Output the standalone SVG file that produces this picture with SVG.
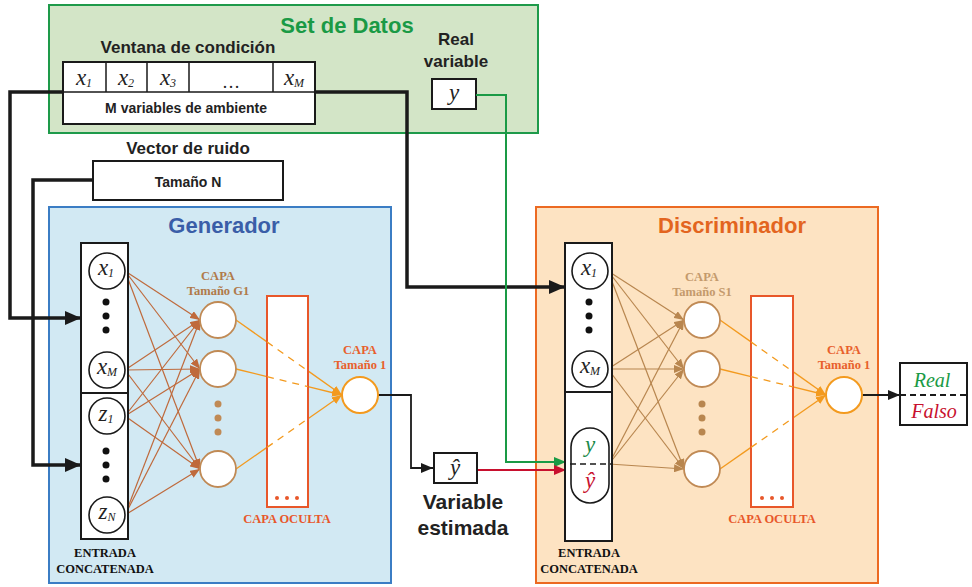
<svg xmlns="http://www.w3.org/2000/svg" width="972" height="587" viewBox="0 0 972 587">
<style>
.sans{font-family:"Liberation Sans",Arial,sans-serif;font-weight:bold}
.serif{font-family:"Liberation Serif","Times New Roman",serif}
.capa{font-family:"Liberation Serif","Times New Roman",serif;font-weight:bold;font-size:12.5px;text-anchor:middle}
.var{font-family:"Liberation Serif","Times New Roman",serif;font-style:italic;font-size:20px;text-anchor:middle;fill:#222}
.vx{font-family:"Liberation Serif","Times New Roman",serif;font-style:italic;font-size:23px;text-anchor:middle;fill:#222}
.box{fill:#fff;stroke:#1a1a1a;stroke-width:2}
.inc{fill:#fff;stroke:#1a1a1a;stroke-width:1.6}
.hid{fill:#fff;stroke:#c08a55;stroke-width:1.8}
.out{fill:#fff;stroke:#f39a1e;stroke-width:2}
.orect{fill:#fff;stroke:#e8572a;stroke-width:2}
.thick{fill:none;stroke:#1a1a1a;stroke-width:3.5}
.gl{stroke:#bf6a3c;stroke-width:1.2;marker-end:url(#mg)}
.dl{stroke:#b8864f;stroke-width:1.2;marker-end:url(#md)}
.ol{stroke:#f39a1e;stroke-width:1.3}
.old{stroke:#f39a1e;stroke-width:1.3;stroke-dasharray:7 6}
</style>
<defs>
<marker id="ab" markerUnits="userSpaceOnUse" markerWidth="16" markerHeight="14" refX="16" refY="7" orient="auto"><path d="M0,0 L16,7 L0,14 z" fill="#1a1a1a"/></marker>
<marker id="as" markerUnits="userSpaceOnUse" markerWidth="12" markerHeight="10" refX="12" refY="5" orient="auto"><path d="M0,0 L12,5 L0,10 z" fill="#1a1a1a"/></marker>
<marker id="agr" markerUnits="userSpaceOnUse" markerWidth="12" markerHeight="10" refX="12" refY="5" orient="auto"><path d="M0,0 L12,5 L0,10 z" fill="#1a9a45"/></marker>
<marker id="ard" markerUnits="userSpaceOnUse" markerWidth="12" markerHeight="10" refX="12" refY="5" orient="auto"><path d="M0,0 L12,5 L0,10 z" fill="#c8102e"/></marker>
<marker id="mg" markerUnits="userSpaceOnUse" markerWidth="10" markerHeight="8" refX="10" refY="4" orient="auto"><path d="M0,0 L10,4 L0,8 z" fill="#bf6a3c"/></marker>
<marker id="md" markerUnits="userSpaceOnUse" markerWidth="10" markerHeight="8" refX="10" refY="4" orient="auto"><path d="M0,0 L10,4 L0,8 z" fill="#b8864f"/></marker>
<marker id="mo" markerUnits="userSpaceOnUse" markerWidth="10" markerHeight="8" refX="10" refY="4" orient="auto"><path d="M0,0 L10,4 L0,8 z" fill="#f39a1e"/></marker>
</defs>
<rect width="972" height="587" fill="#fff"/>

<!-- Set de Datos -->
<g id="set-de-datos">
<rect x="49" y="5" width="489" height="128" fill="#d3e5c7" stroke="#1e9a4a" stroke-width="2"/>
<text class="sans" x="347" y="33" font-size="22" fill="#1a9a45" text-anchor="middle">Set de Datos</text>
<text class="sans" x="188" y="53" font-size="17" fill="#222" text-anchor="middle">Ventana de condición</text>
</g>
<g id="ventana">
<rect class="box" x="63" y="62" width="252" height="62"/>
<path d="M63,92 H315 M106,62 V92 M147,62 V92 M189,62 V92 M273,62 V92" stroke="#1a1a1a" stroke-width="1.5" fill="none"/>
<text class="vx" x="84" y="85">x<tspan font-size="12" dy="2">1</tspan></text>
<text class="vx" x="126" y="85">x<tspan font-size="12" dy="2">2</tspan></text>
<text class="vx" x="168" y="85">x<tspan font-size="12" dy="2">3</tspan></text>
<text class="serif" x="231" y="88" font-size="18" text-anchor="middle" fill="#222">…</text>
<text class="vx" x="294" y="85">x<tspan font-size="12" dy="2">M</tspan></text>
<text class="sans" x="186" y="113" font-size="14" fill="#222" text-anchor="middle">M variables de ambiente</text>
</g>
<g id="real-variable">
<text class="sans" x="456" y="45" font-size="17" fill="#222" text-anchor="middle">Real</text>
<text class="sans" x="456" y="67" font-size="17" fill="#222" text-anchor="middle">variable</text>
<rect class="box" x="432" y="79" width="44" height="30"/>
<text class="vx" x="454" y="100">y</text>
</g>

<!-- Vector de ruido -->
<g id="vector-ruido">
<text class="sans" x="188" y="154" font-size="17" fill="#222" text-anchor="middle">Vector de ruido</text>
<rect class="box" x="93" y="161" width="190" height="39"/>
<text class="sans" x="188" y="187" font-size="14" fill="#222" text-anchor="middle">Tamaño N</text>
</g>

<!-- Generador -->
<g id="generador">
<rect x="49" y="207" width="342" height="376" fill="#d2e9f3" stroke="#3b7dc4" stroke-width="2"/>
<text class="sans" x="224" y="233" font-size="22" fill="#3a5ea8" text-anchor="middle">Generador</text>
</g>

<!-- Discriminador -->
<g id="discriminador">
<rect x="536" y="207" width="342" height="376" fill="#fde3c2" stroke="#ec6a22" stroke-width="2"/>
<text class="sans" x="732" y="233" font-size="22" fill="#e3651f" text-anchor="middle">Discriminador</text>
</g>

<!-- Connectors -->
<g id="connectors">
<path class="thick" d="M63,92 H10 V318 H81" marker-end="url(#ab)"/>
<path class="thick" d="M93,180 H33 V465 H81" marker-end="url(#ab)"/>
<path class="thick" d="M315,92 H407 V287 H565" marker-end="url(#ab)"/>
<path d="M476,95 H506 V462 H566" fill="none" stroke="#1a9a45" stroke-width="2" marker-end="url(#agr)"/>
<path d="M476,470 H566" fill="none" stroke="#c8102e" stroke-width="2" marker-end="url(#ard)"/>
<path d="M378,395 H411 V468 H433" fill="none" stroke="#1a1a1a" stroke-width="1.8" marker-end="url(#as)"/>
<path d="M862,395 H900" fill="none" stroke="#1a1a1a" stroke-width="2" marker-end="url(#as)"/>

<!-- generator input to hidden -->
<line class="gl" x1="125" y1="271" x2="200" y2="320"/>
<line class="gl" x1="125" y1="271" x2="200" y2="369"/>
<line class="gl" x1="125" y1="271" x2="200" y2="469"/>
<line class="gl" x1="125" y1="370" x2="200" y2="320"/>
<line class="gl" x1="125" y1="370" x2="200" y2="369"/>
<line class="gl" x1="125" y1="370" x2="200" y2="469"/>
<line class="gl" x1="125" y1="416" x2="200" y2="320"/>
<line class="gl" x1="125" y1="416" x2="200" y2="369"/>
<line class="gl" x1="125" y1="416" x2="200" y2="469"/>
<line class="gl" x1="125" y1="515" x2="200" y2="320"/>
<line class="gl" x1="125" y1="515" x2="200" y2="369"/>
<line class="gl" x1="125" y1="515" x2="200" y2="469"/>

<!-- discriminator input to hidden -->
<line class="dl" x1="608" y1="271" x2="684" y2="320"/>
<line class="dl" x1="608" y1="271" x2="684" y2="369"/>
<line class="dl" x1="608" y1="271" x2="684" y2="469"/>
<line class="dl" x1="608" y1="369" x2="684" y2="320"/>
<line class="dl" x1="608" y1="369" x2="684" y2="369"/>
<line class="dl" x1="608" y1="369" x2="684" y2="469"/>
<line class="dl" x1="609" y1="464" x2="684" y2="320"/>
<line class="dl" x1="609" y1="464" x2="684" y2="369"/>
<line class="dl" x1="609" y1="464" x2="684" y2="469"/>

<!-- generator hidden to output (solid/dashed/solid) -->
<line class="ol" x1="236" y1="320" x2="267" y2="341.9"/>
<line class="old" x1="267" y1="341.9" x2="308" y2="370.9"/>
<line class="ol" x1="308" y1="370.9" x2="342" y2="395" marker-end="url(#mo)"/>
<line class="ol" x1="236" y1="369" x2="267" y2="376.6"/>
<line class="old" x1="267" y1="376.6" x2="308" y2="386.7"/>
<line class="ol" x1="308" y1="386.7" x2="342" y2="395" marker-end="url(#mo)"/>
<line class="ol" x1="236" y1="469" x2="267" y2="447.4"/>
<line class="old" x1="267" y1="447.4" x2="308" y2="418.7"/>
<line class="ol" x1="308" y1="418.7" x2="342" y2="395" marker-end="url(#mo)"/>

<!-- discriminator hidden to output -->
<line class="ol" x1="720" y1="320" x2="751" y2="341.9"/>
<line class="old" x1="751" y1="341.9" x2="793" y2="371.6"/>
<line class="ol" x1="793" y1="371.6" x2="826" y2="395" marker-end="url(#mo)"/>
<line class="ol" x1="720" y1="369" x2="751" y2="376.6"/>
<line class="old" x1="751" y1="376.6" x2="793" y2="386.9"/>
<line class="ol" x1="793" y1="386.9" x2="826" y2="395" marker-end="url(#mo)"/>
<line class="ol" x1="720" y1="469" x2="751" y2="447.4"/>
<line class="old" x1="751" y1="447.4" x2="793" y2="418.0"/>
<line class="ol" x1="793" y1="418.0" x2="826" y2="395" marker-end="url(#mo)"/>
</g>

<!-- Generator input -->
<g id="gen-entrada">
<rect class="box" x="81" y="243" width="47" height="296"/>
<line x1="81" y1="393" x2="128" y2="393" stroke="#1a1a1a" stroke-width="2"/>
<circle class="inc" cx="107" cy="271" r="18"/>
<text class="vx" x="106" y="275">x<tspan font-size="12" dy="2">1</tspan></text>
<circle cx="106" cy="302" r="3.5" fill="#111"/><circle cx="106" cy="316" r="3.5" fill="#111"/><circle cx="106" cy="330" r="3.5" fill="#111"/>
<circle class="inc" cx="107" cy="370" r="18"/>
<text class="vx" x="107" y="374">x<tspan font-size="12" dy="2">M</tspan></text>
<circle class="inc" cx="107" cy="416" r="18"/>
<text class="vx" x="106" y="421">z<tspan font-size="12" dy="2">1</tspan></text>
<circle cx="106" cy="451" r="3.5" fill="#111"/><circle cx="106" cy="465" r="3.5" fill="#111"/><circle cx="106" cy="479" r="3.5" fill="#111"/>
<circle class="inc" cx="107" cy="515" r="18"/>
<text class="vx" x="107" y="519">z<tspan font-size="12" dy="2">N</tspan></text>
<text class="capa" x="105" y="557" fill="#111" font-size="13">ENTRADA</text>
<text class="capa" x="105" y="573" fill="#111" font-size="13">CONCATENADA</text>
</g>

<g id="gen-capa-g1">
<text class="capa" x="218" y="280" fill="#b07a4a">CAPA</text>
<text class="capa" x="218" y="295" fill="#b07a4a">Tamaño G1</text>
<circle class="hid" cx="218" cy="320" r="18"/>
<circle class="hid" cx="218" cy="369" r="18"/>
<circle cx="218" cy="404" r="3.5" fill="#c08a55"/><circle cx="218" cy="418" r="3.5" fill="#c08a55"/><circle cx="218" cy="432" r="3.5" fill="#c08a55"/>
<circle class="hid" cx="218" cy="469" r="18"/>
</g>

<g id="gen-capa-oculta">
<rect class="orect" x="267" y="296" width="41" height="211"/>
<line class="old" x1="267" y1="341.9" x2="308" y2="370.9"/>
<line class="old" x1="267" y1="376.6" x2="308" y2="386.7"/>
<line class="old" x1="267" y1="447.4" x2="308" y2="418.7"/>
<circle cx="277" cy="498" r="2" fill="#e8572a"/><circle cx="287" cy="498" r="2" fill="#e8572a"/><circle cx="297" cy="498" r="2" fill="#e8572a"/>
<text class="capa" x="287" y="523" fill="#e8572a">CAPA OCULTA</text>
</g>

<g id="gen-salida">
<text class="capa" x="360" y="354" fill="#e8602c">CAPA</text>
<text class="capa" x="360" y="369" fill="#e8602c">Tamaño 1</text>
<circle class="out" cx="360" cy="395" r="18"/>
</g>

<g id="variable-estimada">
<rect class="box" x="434" y="453" width="43" height="30"/>
<text class="vx" x="455" y="475">ŷ</text>
<text class="sans" x="463" y="509" font-size="21" fill="#222" text-anchor="middle">Variable</text>
<text class="sans" x="463" y="535" font-size="21" fill="#222" text-anchor="middle">estimada</text>
</g>

<!-- Discriminator input -->
<g id="dis-entrada">
<rect class="box" x="565" y="243" width="47" height="298"/>
<line x1="565" y1="392" x2="612" y2="392" stroke="#1a1a1a" stroke-width="2"/>
<circle class="inc" cx="590" cy="271" r="18"/>
<text class="vx" x="589" y="275">x<tspan font-size="12" dy="2">1</tspan></text>
<circle cx="589" cy="302" r="3.5" fill="#111"/><circle cx="589" cy="316" r="3.5" fill="#111"/><circle cx="589" cy="330" r="3.5" fill="#111"/>
<circle class="inc" cx="590" cy="369" r="18"/>
<text class="vx" x="590" y="373">x<tspan font-size="12" dy="2">M</tspan></text>
<rect class="inc" x="571" y="428" width="38" height="75" rx="19" ry="19"/>
<line x1="570" y1="464" x2="611" y2="464" stroke="#1a1a1a" stroke-width="1.5" stroke-dasharray="6 4"/>
<text class="vx" x="590" y="452" style="fill:#1a8a4a">y</text>
<text class="vx" x="590" y="488" style="fill:#c8102e">ŷ</text>
<text class="capa" x="589" y="557" fill="#111" font-size="13">ENTRADA</text>
<text class="capa" x="589" y="573" fill="#111" font-size="13">CONCATENADA</text>
</g>

<g id="dis-capa-s1">
<text class="capa" x="702" y="281" fill="#c49a6c">CAPA</text>
<text class="capa" x="702" y="296" fill="#c49a6c">Tamaño S1</text>
<circle class="hid" cx="702" cy="320" r="18"/>
<circle class="hid" cx="702" cy="369" r="18"/>
<circle cx="702" cy="404" r="3.5" fill="#b8864f"/><circle cx="702" cy="418" r="3.5" fill="#b8864f"/><circle cx="702" cy="432" r="3.5" fill="#b8864f"/>
<circle class="hid" cx="702" cy="469" r="18"/>
</g>

<g id="dis-capa-oculta">
<rect class="orect" x="751" y="296" width="42" height="211"/>
<line class="old" x1="751" y1="341.9" x2="793" y2="371.6"/>
<line class="old" x1="751" y1="376.6" x2="793" y2="386.9"/>
<line class="old" x1="751" y1="447.4" x2="793" y2="418.0"/>
<circle cx="762" cy="498" r="2" fill="#e8572a"/><circle cx="772" cy="498" r="2" fill="#e8572a"/><circle cx="782" cy="498" r="2" fill="#e8572a"/>
<text class="capa" x="772" y="523" fill="#e8572a">CAPA OCULTA</text>
</g>

<g id="dis-salida">
<text class="capa" x="844" y="354" fill="#e8602c">CAPA</text>
<text class="capa" x="844" y="369" fill="#e8602c">Tamaño 1</text>
<circle class="out" cx="844" cy="395" r="18"/>
</g>

<g id="real-falso">
<rect class="box" x="900" y="363" width="67" height="62"/>
<line x1="900" y1="395" x2="967" y2="395" stroke="#1a1a1a" stroke-width="1.8" stroke-dasharray="6 4"/>
<text class="var" x="932" y="387" style="fill:#1a9a45">Real</text>
<text class="var" x="934" y="418" style="fill:#c8102e">Falso</text>
</g>
</svg>
